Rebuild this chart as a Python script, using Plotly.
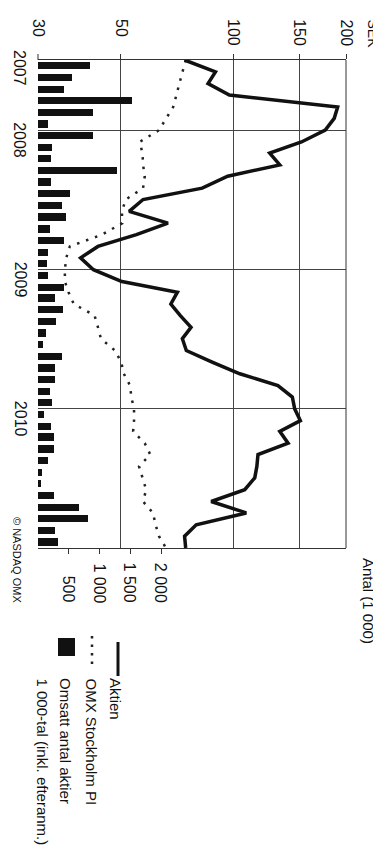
import numpy as np
import pandas as pd
import plotly.graph_objects as go

# ---------------- data ----------------
line_dates = [d.strftime("%Y-%m-%d") for d in pd.date_range("2007-07-01", "2011-01-01", freq="MS")]
aktien = [74, 89.5, 85.5, 97.5, 190, 186, 176, 152, 125, 133, 96.5, 82.5,
          57.3, 52.6, 66.8, 55, 43.4, 39, 42.2, 50.3, 70.8, 68, 72, 77,
          73, 74.8, 88, 104, 131.5, 143.7, 145.8, 151, 133, 140, 116.3, 115.5,
          114, 107.2, 87.2, 108.2, 79.5, 74, 74.5]
omx = [74.5, 73.1, 71.8, 70.3, 69.0, 66.1, 63.2, 56.1, 57.1, 57.3, 57.9, 57.3,
       51.5, 50.3, 50.4, 44.5, 36.5, 35.7, 35.4, 35.4, 36.2, 37.4, 42.5, 43.4,
       44.2, 48.2, 50.1, 50.9, 52.9, 53.3, 54.2, 54.2, 53.9, 57.9, 59.9, 55.9,
       57.0, 58.4, 57.3, 60.9, 61.9, 63.2, 66.0]
bar_dates = [(d + pd.Timedelta(days=15)).strftime("%Y-%m-%d")
             for d in pd.date_range("2007-07-01", "2010-12-01", freq="MS")]
volume = [850, 553, 418, 1533, 900, 163, 900, 233, 210, 1290, 210, 520,
          395, 460, 195, 430, 163, 150, 160, 425, 271, 410, 298, 135,
          81, 390, 282, 271, 190, 228, 98, 206, 255, 255, 163, 70,
          54, 255, 670, 813, 280, 330]

price_ticks = [30, 50, 100, 150, 200]
price_grid = [50, 100, 150, 200]
vol_ticks = [500, 1000, 1500, 2000]
vol_labels = ["500", "1 000", "1 500", "2 000"]
year_pos = ["2007-07-01", "2008-01-01", "2009-01-01", "2010-01-01"]
year_labels = ["2007", "2008", "2009", "2010"]
year_grid = ["2008-01-01", "2009-01-01", "2010-01-01"]
legend_labels = ["Aktien", "OMX Stockholm PI", "Omsatt antal aktier", "1 000-tal (inkl. efteranm.)"]

# ---------------- layout helpers (pixel -> paper) ----------------
L, R, T, B = 30, 338, 52, 540
def px(x):
    return (x - L) / (R - L)
def py(y):
    return (B - y) / (B - T)

FONT = "Liberation Sans, Arial, Helvetica, sans-serif"
INK = "#111111"

fig = go.Figure()
fig.add_trace(go.Bar(
    x=volume, y=bar_dates, orientation="h", width=19 * 86400000,
    marker=dict(color=INK, line=dict(width=0)), xaxis="x", yaxis="y",
    name="Omsatt antal aktier"))
fig.add_trace(go.Scatter(
    x=omx, y=line_dates, mode="lines", xaxis="x2", yaxis="y",
    line=dict(color="#222222", width=2.5, dash="2.5px,7px"), name="OMX Stockholm PI"))
fig.add_trace(go.Scatter(
    x=aktien, y=line_dates, mode="lines", xaxis="x2", yaxis="y",
    line=dict(color=INK, width=3.5), name="Aktien"))

ann = []
for v in price_ticks:
    ann.append(dict(x=np.log10(v), xref="x2", y=py(9), yref="paper", text=str(v),
                    textangle=90, xanchor="center", yanchor="top", showarrow=False,
                    font=dict(size=16)))
ann.append(dict(x=px(364), xref="paper", y=py(9), yref="paper", text="SEK",
                textangle=90, xanchor="center", yanchor="top", showarrow=False,
                font=dict(size=14)))
for i, (d, t) in enumerate(zip(year_pos, year_labels)):
    ann.append(dict(x=px(12), xref="paper", y=d, yref="y", text=t, textangle=90,
                    xanchor="center", yanchor="top", yshift=12 if i == 0 else 10,
                    showarrow=False, font=dict(size=16)))
for v, t in zip(vol_ticks, vol_labels):
    ann.append(dict(x=v, xref="x", y=py(597), yref="paper", text=t, textangle=90,
                    xanchor="center", yanchor="bottom", showarrow=False,
                    font=dict(size=16)))
ann.append(dict(x=px(361), xref="paper", y=py(548), yref="paper", text="Antal (1 000)",
                textangle=90, xanchor="center", yanchor="top", showarrow=False,
                font=dict(size=15)))
ann.append(dict(x=px(9), xref="paper", y=py(597), yref="paper", text="© NASDAQ OMX",
                textangle=90, xanchor="center", yanchor="bottom", showarrow=False,
                font=dict(size=11)))
for xp, t in zip([108, 83, 58, 34], legend_labels):
    ann.append(dict(x=px(xp), xref="paper", y=py(668), yref="paper", text=t,
                    textangle=90, xanchor="center", yanchor="top", showarrow=False,
                    font=dict(size=15)))

shapes = [
    # right border
    dict(type="line", xref="paper", yref="paper", x0=1, x1=1, y0=0, y1=1,
         line=dict(color="#333", width=1)),
    # tick for 30
    dict(type="line", xref="paper", yref="paper", x0=0, x1=0, y0=1, y1=py(46),
         line=dict(color="#333", width=1)),
    # legend symbols
    dict(type="line", xref="paper", yref="paper", x0=px(110), x1=px(110),
         y0=py(634), y1=py(668), line=dict(color=INK, width=3)),
    dict(type="line", xref="paper", yref="paper", x0=px(84), x1=px(84),
         y0=py(628), y1=py(657), line=dict(color="#222", width=2.5, dash="2.5px,6px")),
    dict(type="rect", xref="paper", yref="paper", x0=px(50), x1=px(67),
         y0=py(648), y1=py(630), fillcolor=INK, line=dict(width=0)),
]

fig.update_layout(
    width=381, height=851,
    margin=dict(l=L, r=381 - R, t=T, b=851 - B, pad=0),
    paper_bgcolor="white", plot_bgcolor="white", showlegend=False,
    font=dict(family=FONT, color=INK, size=16),
    bargap=0,
    xaxis=dict(type="linear", range=[0, 5000], side="bottom", tickvals=vol_ticks,
               showticklabels=False, ticks="outside", ticklen=5, tickcolor="#333",
               showgrid=False, zeroline=False, showline=True, linecolor="#333",
               linewidth=1),
    xaxis2=dict(type="log", range=[np.log10(30), np.log10(200)], overlaying="x",
                side="top", tickvals=price_grid, showticklabels=False,
                ticks="outside", ticklen=5, tickcolor="#333", showgrid=True,
                gridcolor="#444", gridwidth=1, zeroline=False, showline=True,
                linecolor="#333", linewidth=1),
    yaxis=dict(type="date", range=["2011-01-01", "2007-07-01"], tickvals=year_grid,
               showticklabels=False, ticks="", showgrid=True, gridcolor="#444",
               gridwidth=1, zeroline=False, showline=False),
    annotations=ann, shapes=shapes,
)

fig.write_html("out.html", config={"displayModeBar": False})
